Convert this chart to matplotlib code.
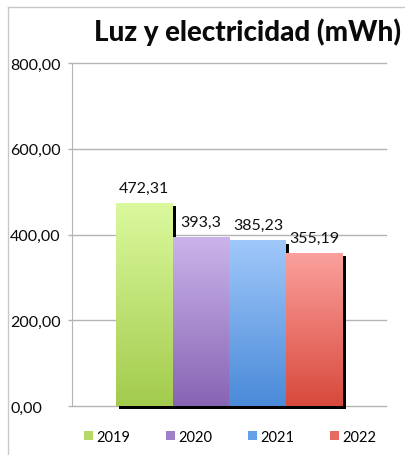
import matplotlib
matplotlib.use("Agg")
import matplotlib.pyplot as plt
import matplotlib.patheffects as pe
from matplotlib.lines import Line2D
from matplotlib.patches import Patch
from matplotlib.colors import LinearSegmentedColormap
from matplotlib.ticker import FuncFormatter
import numpy as np

plt.rcParams['font.family'] = ['Lato', 'DejaVu Sans']

years = ["2019", "2020", "2021", "2022"]
values = [472.31, 393.3, 385.23, 355.19]
value_labels = ["472,31", "393,3", "385,23", "355,19"]
top_colors = ["#dbf99d", "#cab4ea", "#a0c8fa", "#fba09c"]
bottom_colors = ["#a3cb4d", "#8864b4", "#4a8ad8", "#d8493c"]
legend_colors = ["#b5d866", "#9f80c8", "#64a0e6", "#e86a62"]
yticks = [0, 200, 400, 600, 800]
title = "Luz y electricidad (mWh)"

W, H = 406, 456
fig = plt.figure(figsize=(W / 100, H / 100), dpi=100)
fig.patch.set_facecolor("white")

ax = fig.add_axes([72 / W, 1 - 407 / H, (386 - 72) / W, (407 - 64) / H])
x = np.arange(len(years))
ax.set_xlim(-1.275, 4.258)
ax.set_ylim(0, 800)

grid_color = "#b4b4b4"
for t in yticks:
    ax.axhline(t, color=grid_color, lw=1.0, zorder=1, clip_on=False)

shadow = pe.SimplePatchShadow(offset=(2.2, -2.0), shadow_rgbFace="black", alpha=1.0)
for i, (xi, v) in enumerate(zip(x, values)):
    bar = ax.bar(xi, v, width=1.0, color=bottom_colors[i], zorder=3 + 2 * i,
                 clip_on=False, linewidth=0)[0]
    bar.set_path_effects([shadow, pe.Normal()])
    cmap = LinearSegmentedColormap.from_list("g%d" % i, [bottom_colors[i], top_colors[i]])
    grad = np.linspace(0, 1, 256).reshape(-1, 1)
    im = ax.imshow(grad, cmap=cmap, origin="lower", aspect="auto",
                   extent=(bar.get_x(), bar.get_x() + bar.get_width(), 0, v),
                   zorder=4 + 2 * i, clip_on=False)
    im.set_clip_path(bar)
    ax.annotate(value_labels[i], (xi, v), xytext=(0, 11.5), textcoords="offset points",
                ha="center", va="center", fontsize=11.5, color="#111111", zorder=20)

ax.set_xlim(-1.275, 4.258)
ax.set_ylim(0, 800)
ax.set_yticks(yticks)
ax.yaxis.set_major_formatter(FuncFormatter(lambda v, p: f"{v:.2f}".replace(".", ",")))
ax.set_xticks([])
for s in ["top", "right", "bottom"]:
    ax.spines[s].set_visible(False)
ax.spines["left"].set_color(grid_color)
ax.tick_params(axis="y", length=3, width=1, color=grid_color, labelsize=11.5,
               labelcolor="#0a0a0a", pad=41.5)
for lbl in ax.get_yticklabels():
    lbl.set_horizontalalignment("left")

fig.text(248 / W, 1 - 32 / H, title, ha="center", va="center",
         fontsize=20, fontweight="black", color="#0a0a0a")

handles = [Patch(facecolor=c, edgecolor="none") for c in legend_colors]
fig.legend(handles, years, loc="center", bbox_to_anchor=(0.567, 1 - 438 / H), ncol=4,
           frameon=False, fontsize=10.5, handlelength=0.6, handleheight=0.6,
           handletextpad=0.25, columnspacing=2.45)

border = "#c8c8c8"
fig.add_artist(Line2D([8 / W, 8 / W], [0, 1 - 8 / H], color=border, lw=1, transform=fig.transFigure))
fig.add_artist(Line2D([8 / W, 1], [1 - 8 / H, 1 - 8 / H], color=border, lw=1, transform=fig.transFigure))

fig.savefig("out.png", dpi=100, facecolor="white")
